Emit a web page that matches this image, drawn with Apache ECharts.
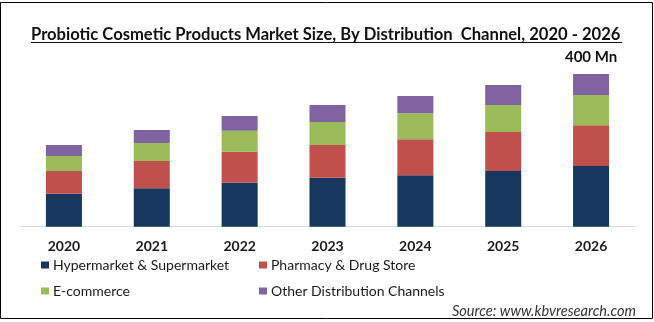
<!DOCTYPE html>
<html>
<head>
<meta charset="utf-8">
<script src="https://cdn.jsdelivr.net/npm/echarts@6/dist/echarts.min.js"></script>
<style>
  html, body { margin: 0; padding: 0; background: #fff; }
  #chart { width: 654px; height: 322px; }
</style>
</head>
<body>
<div id="chart"></div>
<script>
// Probiotic cosmetic products market size by distribution channel (USD Mn)
const years = ['2020', '2021', '2022', '2023', '2024', '2025', '2026'];
const hypermarket = [86, 101, 115, 128, 135, 146, 159];
const pharmacy = [60, 71, 81, 86, 94, 102, 107];
const ecommerce = [39, 47, 55, 60, 68, 71, 79];
const otherChannels = [29, 34, 39, 45, 45, 52, 55];
const seriesNames = ['Hypermarket & Supermarket', 'Pharmacy & Drug Store', 'E-commerce', 'Other Distribution Channels'];
const colors = ['#17375e', '#c0504d', '#9bbb59', '#8064a2'];
const totalLabel = '400 Mn';

const FONT = 'Lato';
const chart = echarts.init(document.getElementById('chart'), null, { renderer: 'canvas' });

const values = [hypermarket, pharmacy, ecommerce, otherChannels];
const lastIdx = years.length - 1;

const series = seriesNames.map((name, i) => ({
  name,
  type: 'bar',
  stack: 'total',
  barWidth: '41%',
  itemStyle: { color: colors[i] },
  data: values[i].map((v, j) => {
    if (i === values.length - 1 && j === lastIdx) {
      return {
        value: v,
        label: {
          show: true,
          position: 'top',
          distance: 9,
          formatter: totalLabel,
          fontFamily: FONT,
          fontWeight: 'bold',
          fontSize: 15,
          color: '#111'
        }
      };
    }
    return v;
  })
}));

function legendAt(name, left, top) {
  return {
    data: [name],
    left, top,
    itemWidth: 8,
    itemHeight: 7,
    itemGap: 0,
    icon: 'rect',
    padding: 0,
    textStyle: { fontFamily: FONT, fontSize: 14, color: '#1a1a1a', padding: [0, 0, 0, -1] }
  };
}

chart.setOption({
  animation: false,
  grid: { left: 20, right: 19, top: 35.8, bottom: 95.3, containLabel: false },
  xAxis: {
    type: 'category',
    data: years,
    axisLine: { lineStyle: { color: '#d9d9d9', width: 1 } },
    axisTick: { show: false },
    axisLabel: { margin: 13, fontFamily: FONT, fontWeight: 'bold', fontSize: 14, color: '#1a1a1a' }
  },
  yAxis: {
    type: 'value',
    min: 0,
    max: 500,
    show: false,
    splitLine: { show: false }
  },
  legend: [
    legendAt(seriesNames[0], 41, 258),
    legendAt(seriesNames[1], 259, 258),
    legendAt(seriesNames[2], 41, 284),
    legendAt(seriesNames[3], 259, 284)
  ],
  graphic: [
    {
      type: 'rect',
      shape: { x: 0.5, y: 2.5, width: 652, height: 316 },
      style: { fill: 'none', stroke: '#000', lineWidth: 1 },
      silent: true
    },
    {
      type: 'text',
      left: 31,
      top: 26,
      style: {
        text: 'Probiotic Cosmetic Products Market Size, By Distribution  Channel, 2020 - 2026',
        font: 'bold 16.6px ' + FONT,
        fill: '#111'
      }
    },
    {
      type: 'line',
      shape: { x1: 31, y1: 42.5, x2: 622, y2: 42.5 },
      style: { stroke: '#111', lineWidth: 1 }
    },
    {
      type: 'text',
      right: 18,
      top: 304,
      style: {
        text: 'Source: www.kbvresearch.com',
        font: 'italic 14.6px ' + FONT,
        fill: '#333'
      }
    }
  ],
  series
});
</script>
</body>
</html>
